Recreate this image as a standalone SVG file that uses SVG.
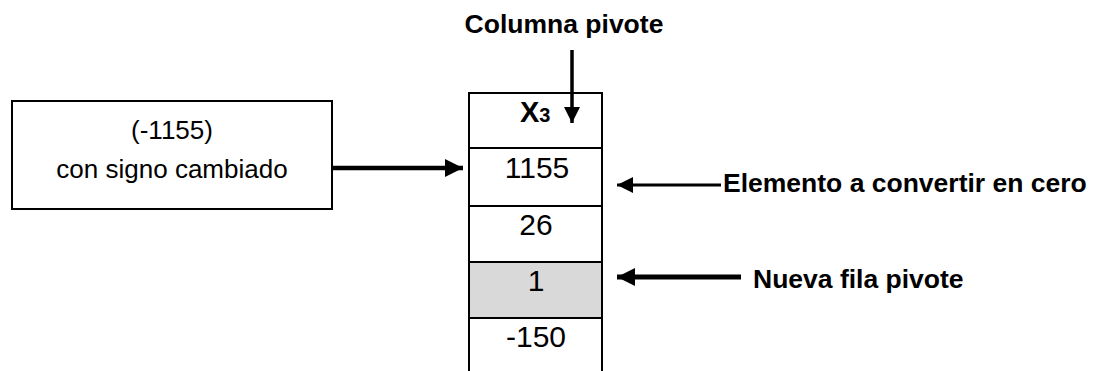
<svg xmlns="http://www.w3.org/2000/svg" width="1102" height="371" viewBox="0 0 1102 371">
<style>
.box{fill:#fff;stroke:#000;stroke-width:2}
.t{font-family:"Liberation Sans",Arial,sans-serif;fill:#000}
.b{font-weight:bold}
.num{font-size:30px;text-anchor:middle}
.lbl{font-size:26.5px;font-weight:bold}
.cn{stroke:#000;fill:none}
</style>
<defs>
<marker id="ah" markerUnits="userSpaceOnUse" markerWidth="18" markerHeight="18" refX="18" refY="9" orient="auto">
<path d="M0,0 L18,9 L0,18 Z" fill="#000"/>
</marker>
<marker id="ah2" markerUnits="userSpaceOnUse" markerWidth="16" markerHeight="16" refX="16" refY="8" orient="auto">
<path d="M0,0 L16,8 L0,16 Z" fill="#000"/>
</marker>
</defs>
<g id="label-columna">
<text class="t lbl" x="564" y="33" text-anchor="middle">Columna pivote</text>
</g>
<g id="source-box">
<rect class="box" x="12" y="101" width="320" height="108"/>
<text class="t" x="172" y="139" font-size="26" text-anchor="middle">(-1155)</text>
<text class="t" x="172" y="178" font-size="26" text-anchor="middle">con signo cambiado</text>
</g>
<g id="column">
<rect class="box" x="469" y="93" width="133" height="55"/>
<rect class="box" x="469" y="148" width="133" height="58"/>
<rect class="box" x="469" y="206" width="133" height="56"/>
<rect x="469" y="262" width="133" height="56" fill="#d9d9d9" stroke="#000" stroke-width="2"/>
<rect class="box" x="469" y="318" width="133" height="60"/>
<text class="t b" x="520" y="122" font-size="29">X<tspan font-size="20">3</tspan></text>
<text class="t num" x="537" y="178">1155</text>
<text class="t num" x="536" y="235">26</text>
<text class="t num" x="536" y="291">1</text>
<text class="t num" x="536" y="347">-150</text>
</g>
<g id="label-elemento">
<text class="t lbl" x="723" y="192">Elemento a convertir en cero</text>
</g>
<g id="label-nueva">
<text class="t lbl" x="753" y="288">Nueva fila pivote</text>
</g>
<g id="connectors">
<line class="cn" x1="572" y1="50" x2="572" y2="123" stroke-width="3.5" marker-end="url(#ah2)"/>
<line class="cn" x1="332" y1="168" x2="463" y2="168" stroke-width="4.5" marker-end="url(#ah)"/>
<line class="cn" x1="721" y1="185" x2="617" y2="185" stroke-width="3" marker-end="url(#ah2)"/>
<line class="cn" x1="741" y1="277" x2="617" y2="277" stroke-width="5" marker-end="url(#ah)"/>
</g>
</svg>
